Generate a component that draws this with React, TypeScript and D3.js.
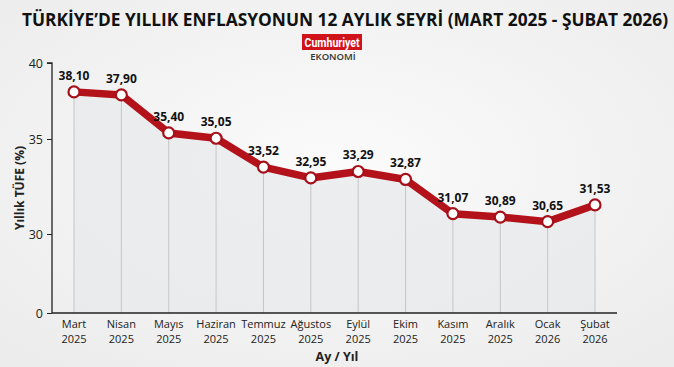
import React, { useRef, useEffect } from "react";
import * as d3 from "d3";

const months = ["Mart", "Nisan", "Mayıs", "Haziran", "Temmuz", "Ağustos", "Eylül", "Ekim", "Kasım", "Aralık", "Ocak", "Şubat"];
const years = ["2025", "2025", "2025", "2025", "2025", "2025", "2025", "2025", "2025", "2025", "2026", "2026"];
const values = [38.1, 37.9, 35.4, 35.05, 33.52, 32.95, 33.29, 32.87, 31.07, 30.89, 30.65, 31.53];
const yTicks = [0, 30, 35, 40];

const W = 674;
const H = 367;

const App = () => {
    const svgRef = useRef(null);

    useEffect(() => {
        const svg = d3.select(svgRef.current);
        svg.selectAll("*").remove();

        const defs = svg.append("defs");
        const bg = defs.append("radialGradient").attr("id", "bg").attr("cx", "50%").attr("cy", "45%").attr("r", "70%");
        bg.append("stop").attr("offset", "0%").attr("stop-color", "#fbfbfb");
        bg.append("stop").attr("offset", "100%").attr("stop-color", "#ececec");
        svg.append("rect").attr("width", W).attr("height", H).attr("fill", "url(#bg)");

        const font = "'Open Sans', 'DejaVu Sans', sans-serif";

        // title
        svg.append("text")
            .attr("x", 345).attr("y", 26)
            .attr("text-anchor", "middle")
            .attr("textLength", 646).attr("lengthAdjust", "spacingAndGlyphs")
            .style("font-family", font).style("font-weight", 700).style("font-size", "17px")
            .style("fill", "#111")
            .text("TÜRKİYE’DE YILLIK ENFLASYONUN 12 AYLIK SEYRİ (MART 2025 - ŞUBAT 2026)");

        // logo
        svg.append("rect").attr("x", 302).attr("y", 34).attr("width", 60).attr("height", 16).attr("fill", "#d0121b");
        svg.append("text").attr("x", 332).attr("y", 46.5).attr("text-anchor", "middle")
            .attr("textLength", 55).attr("lengthAdjust", "spacingAndGlyphs")
            .style("font-family", "Roboto, sans-serif").style("font-weight", 700).style("font-size", "13px")
            .style("fill", "#fff").text("Cumhuriyet");
        svg.append("text").attr("x", 333).attr("y", 60).attr("text-anchor", "middle")
            .style("font-family", font).style("font-weight", 600).style("font-size", "9.5px")
            .style("fill", "#333").text("EKONOMİ");

        const x = d3.scalePoint().domain(months).range([74, 595]);
        const y = d3.scaleLinear().domain(yTicks).range([313, 234, 139, 63]);

        const data = months.map((m, i) => ({ m, v: values[i], yr: years[i] }));

        // area under line
        const area = d3.area()
            .x((d) => x(d.m))
            .y0(y(0))
            .y1((d) => y(d.v));
        svg.append("path").datum(data).attr("d", area).attr("fill", "#e6e8ea").attr("opacity", 0.7);

        // drop lines
        svg.selectAll(".drop").data(data).join("line")
            .attr("class", "drop")
            .attr("x1", (d) => x(d.m)).attr("x2", (d) => x(d.m))
            .attr("y1", (d) => y(d.v)).attr("y2", y(0))
            .attr("stroke", "#c4c6c8").attr("stroke-width", 1);

        // axes
        const yAxis = d3.axisLeft(y).tickValues(yTicks).tickSize(5).tickPadding(4);
        const gy = svg.append("g").attr("transform", "translate(52,0)").call(yAxis);
        gy.select(".domain").attr("d", `M-5,${y(40)}H0V${y(0)}`).attr("stroke", "#222").attr("stroke-width", 1.3);
        gy.selectAll(".tick line").attr("stroke", "#222");
        gy.selectAll(".tick text").style("font-family", font).style("font-size", "12.5px").style("fill", "#222");

        svg.append("line").attr("x1", 52).attr("x2", 617).attr("y1", y(0)).attr("y2", y(0))
            .attr("stroke", "#222").attr("stroke-width", 1.5);

        svg.selectAll(".xm").data(data).join("text")
            .attr("class", "xm")
            .attr("x", (d) => x(d.m)).attr("y", 328)
            .attr("text-anchor", "middle")
            .style("font-family", font).style("font-size", "11px").style("fill", "#222")
            .text((d) => d.m);
        svg.selectAll(".xy").data(data).join("text")
            .attr("class", "xy")
            .attr("x", (d) => x(d.m)).attr("y", 343)
            .attr("text-anchor", "middle")
            .style("font-family", font).style("font-size", "11px").style("fill", "#222")
            .text((d) => d.yr);

        svg.append("text").attr("x", 337).attr("y", 361).attr("text-anchor", "middle")
            .style("font-family", font).style("font-weight", 700).style("font-size", "12.5px")
            .style("fill", "#222").text("Ay / Yıl");

        svg.append("text")
            .attr("transform", "translate(24,188) rotate(-90)")
            .attr("text-anchor", "middle")
            .style("font-family", font).style("font-weight", 700).style("font-size", "12px")
            .style("fill", "#222").text("Yıllık TÜFE (%)");

        // line
        const ln = d3.line().x((d) => x(d.m)).y((d) => y(d.v));
        svg.append("path").datum(data).attr("d", ln)
            .attr("fill", "none").attr("stroke", "#b3121b").attr("stroke-width", 7.5)
            .attr("stroke-linejoin", "round");

        svg.selectAll(".pt").data(data).join("circle")
            .attr("class", "pt")
            .attr("cx", (d) => x(d.m)).attr("cy", (d) => y(d.v)).attr("r", 5.5)
            .attr("fill", "#fff").attr("stroke", "#a5101a").attr("stroke-width", 2.2);

        svg.selectAll(".vl").data(data).join("text")
            .attr("class", "vl")
            .attr("x", (d) => x(d.m)).attr("y", (d) => y(d.v) - 12)
            .attr("text-anchor", "middle")
            .style("font-family", font).style("font-weight", 700).style("font-size", "12px")
            .style("fill", "#111")
            .text((d) => d.v.toFixed(2).replace(".", ","));
    }, []);

    return <svg ref={svgRef} width={W} height={H} style={{ display: "block", position: "absolute", left: 0, top: 0 }} />;
};

export default App;
